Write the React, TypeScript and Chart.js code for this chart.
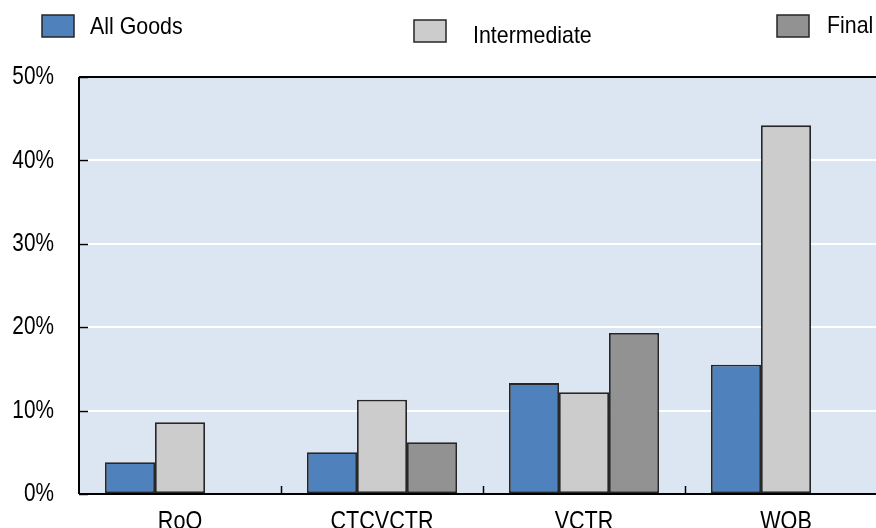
import React, { useEffect, useRef } from "react";
import { Chart, registerables } from "chart.js";

Chart.register(...registerables);

const categories = ["RoO", "CTCVCTR", "VCTR", "WOB"];
const seriesNames = ["All Goods", "Intermediate", "Final"];
const allGoods = [3.8, 5.0, 13.3, 15.5];
const intermediate = [8.6, 11.3, 12.2, 44.2];
const finalGoods: (number | null)[] = [null, 6.2, 19.3, null];
const seriesColors = ["#4f81bd", "#cccccc", "#929292"];
const yTicks = [0, 10, 20, 30, 40, 50];

const FONT = '"Liberation Sans", Arial, sans-serif';
const W = 920;
const H = 560;

function narrowText(ctx: any, text: string, x: number, y: number, size: number, sx: number, align: string, baseline: string) {
  ctx.save();
  ctx.font = `${size}px ${FONT}`;
  ctx.fillStyle = "#000";
  ctx.textAlign = align;
  ctx.textBaseline = baseline;
  ctx.translate(x, y);
  ctx.scale(sx, 1);
  ctx.fillText(text, 0, 0);
  ctx.restore();
}

const framePlugin = {
  id: "frame",
  beforeDraw(chart: any) {
    const { ctx, chartArea: a } = chart;
    ctx.save();
    ctx.fillStyle = "#dce6f2";
    ctx.fillRect(a.left, a.top, a.right - a.left, a.bottom - a.top);
    ctx.restore();
  },
  afterDatasetsDraw(chart: any) {
    const { ctx, chartArea: a, scales } = chart;
    ctx.save();
    ctx.strokeStyle = "#000";
    ctx.lineWidth = 1.5;
    for (const v of yTicks) {
      const y = Math.round(scales.y.getPixelForValue(v)) + 0.5;
      ctx.beginPath();
      ctx.moveTo(a.left, y);
      ctx.lineTo(a.left + 9, y);
      ctx.stroke();
    }
    const n = categories.length;
    for (let i = 1; i <= n; i++) {
      const x = Math.round(a.left + (i * (a.right - a.left)) / n) + 0.5;
      ctx.beginPath();
      ctx.moveTo(x, a.bottom);
      ctx.lineTo(x, a.bottom - 8);
      ctx.stroke();
    }
    ctx.lineWidth = 2;
    ctx.beginPath();
    ctx.moveTo(a.left, a.top);
    ctx.lineTo(a.right, a.top);
    ctx.moveTo(a.left, a.top);
    ctx.lineTo(a.left, a.bottom);
    ctx.moveTo(a.left, a.bottom);
    ctx.lineTo(a.right, a.bottom);
    ctx.moveTo(a.right, a.top);
    ctx.lineTo(a.right, a.bottom);
    ctx.stroke();
    ctx.restore();
  },
  afterDraw(chart: any) {
    const { ctx, scales, chartArea: a } = chart;
    // y tick labels
    for (const v of yTicks) {
      narrowText(ctx, `${v}%`, a.left - 25, scales.y.getPixelForValue(v), 26, 0.8, "right", "middle");
    }
    // x tick labels
    chart.data.labels.forEach((lab: string, i: number) => {
      narrowText(ctx, lab, scales.x.getPixelForValue(i), a.bottom + 35, 26, 0.83, "center", "alphabetic");
    });
    // legend
    const items = [
      { bx: 42, by: 15, tx: 90, ty: 34 },
      { bx: 414, by: 20, tx: 473, ty: 43 },
      { bx: 777, by: 15, tx: 827, ty: 33 },
    ];
    ctx.save();
    chart.data.datasets.forEach((ds: any, i: number) => {
      const it = items[i];
      ctx.fillStyle = ds.backgroundColor;
      ctx.fillRect(it.bx, it.by, 32, 22);
      ctx.strokeStyle = "#262626";
      ctx.lineWidth = 1.5;
      ctx.strokeRect(it.bx, it.by, 32, 22);
      narrowText(ctx, ds.label, it.tx, it.ty, 24, 0.89, "left", "alphabetic");
    });
    ctx.restore();
  },
};

export default function App() {
  const ref = useRef<HTMLCanvasElement | null>(null);
  useEffect(() => {
    if (!ref.current) return;
    const chart = new Chart(ref.current, {
      type: "bar",
      data: {
        labels: categories,
        datasets: [allGoods, intermediate, finalGoods].map((d, i) => ({
          label: seriesNames[i],
          data: d,
          backgroundColor: seriesColors[i],
          borderColor: "#262626",
          borderWidth: 1.8,
          borderSkipped: false,
          categoryPercentage: 0.743,
          barPercentage: 1,
        })),
      },
      options: {
        responsive: false,
        animation: false,
        devicePixelRatio: 1,
        layout: { padding: { top: 77, right: 33, left: 0, bottom: 0 } },
        plugins: { legend: { display: false }, tooltip: { enabled: false }, title: { display: false } },
        scales: {
          x: {
            grid: { display: false },
            border: { display: false },
            ticks: { display: false },
            afterFit: (s: any) => {
              s.height = H - 494;
            },
          },
          y: {
            min: 0,
            max: 50,
            grid: { color: "#ffffff", lineWidth: 2, drawTicks: false },
            border: { display: false },
            ticks: { stepSize: 10, display: false },
            afterFit: (s: any) => {
              s.width = 79;
            },
          },
        },
      },
      plugins: [framePlugin],
    });
    return () => chart.destroy();
  }, []);
  return (
    <div style={{ position: "fixed", left: 0, top: 0, width: 876, height: 528, overflow: "hidden", background: "#fff" }}>
      <canvas ref={ref} width={W} height={H} style={{ width: W, height: H, display: "block" }} />
    </div>
  );
}
